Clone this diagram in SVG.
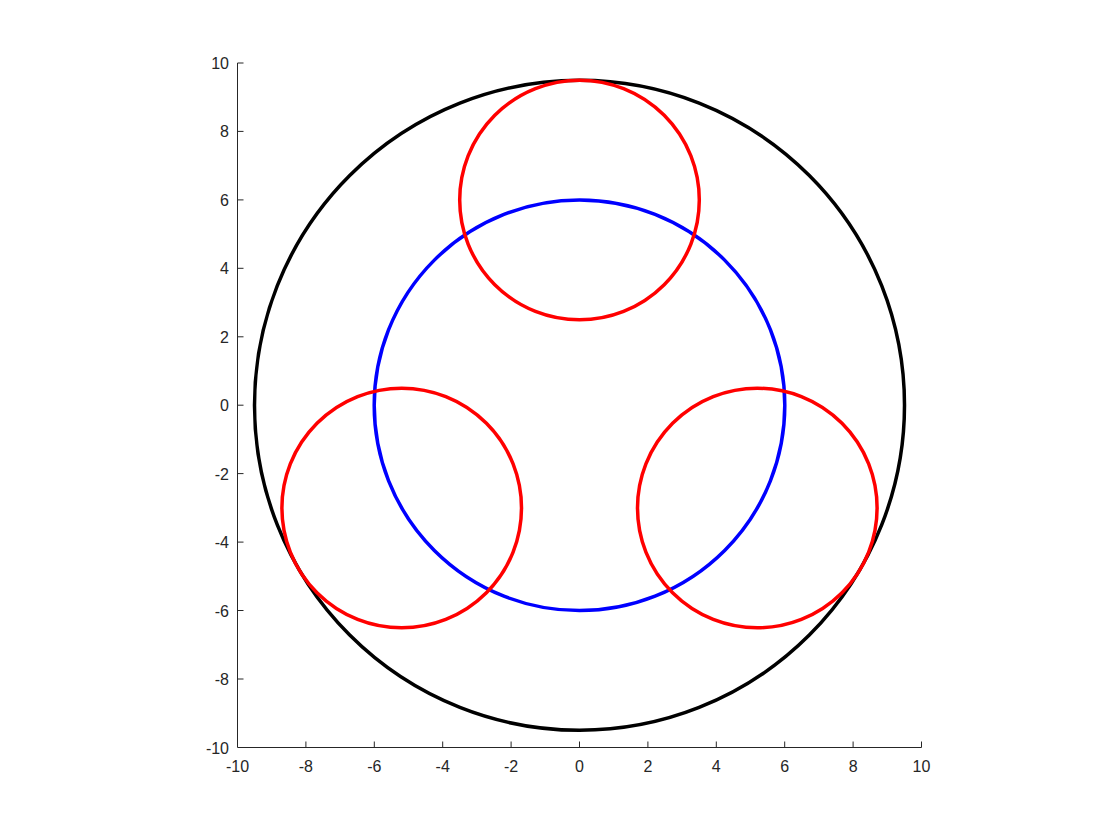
<svg xmlns="http://www.w3.org/2000/svg" width="1120" height="840" viewBox="0 0 1120 840">
<style>
.ax{stroke:#262626;stroke-width:1;fill:none}
.t{font-family:"Liberation Sans",Arial,sans-serif;font-size:16px;fill:#262626}
.c{fill:none;stroke-width:3.5}
</style>
<rect width="1120" height="840" fill="#fff"/>
<g id="circles">
<circle id="outer" class="c" cx="579.5" cy="405.3" r="325" stroke="#000"/>
<circle id="blue" class="c" cx="579.5" cy="405.3" r="205.3" stroke="#0000ff"/>
<circle id="red-top" class="c" cx="579.5" cy="200" r="119.8" stroke="#ff0000"/>
<circle id="red-left" class="c" cx="401.7" cy="508" r="119.8" stroke="#ff0000"/>
<circle id="red-right" class="c" cx="757.3" cy="508" r="119.8" stroke="#ff0000"/>
</g>
<g id="axes">
<path class="ax" d="M237.5,63 V747.5 H921.5"/>
<path class="ax" d="M237.5,63h6M237.5,131.4h6M237.5,199.9h6M237.5,268.3h6M237.5,336.8h6M237.5,405.2h6M237.5,473.6h6M237.5,542.1h6M237.5,610.5h6M237.5,679h6M305.9,747.5v-6M374.3,747.5v-6M442.7,747.5v-6M511.1,747.5v-6M579.5,747.5v-6M647.9,747.5v-6M716.3,747.5v-6M784.7,747.5v-6M853.1,747.5v-6M921.5,747.5v-6"/>
<g class="t" text-anchor="end">
<text x="229" y="69">10</text>
<text x="229" y="137.4">8</text>
<text x="229" y="205.9">6</text>
<text x="229" y="274.3">4</text>
<text x="229" y="342.8">2</text>
<text x="229" y="411.2">0</text>
<text x="229" y="479.6">-2</text>
<text x="229" y="548.1">-4</text>
<text x="229" y="616.5">-6</text>
<text x="229" y="685">-8</text>
<text x="229" y="753.5">-10</text>
</g>
<g class="t" text-anchor="middle">
<text x="237.5" y="772">-10</text>
<text x="305.9" y="772">-8</text>
<text x="374.3" y="772">-6</text>
<text x="442.7" y="772">-4</text>
<text x="511.1" y="772">-2</text>
<text x="579.5" y="772">0</text>
<text x="647.9" y="772">2</text>
<text x="716.3" y="772">4</text>
<text x="784.7" y="772">6</text>
<text x="853.1" y="772">8</text>
<text x="921.5" y="772">10</text>
</g>
</g>
</svg>
